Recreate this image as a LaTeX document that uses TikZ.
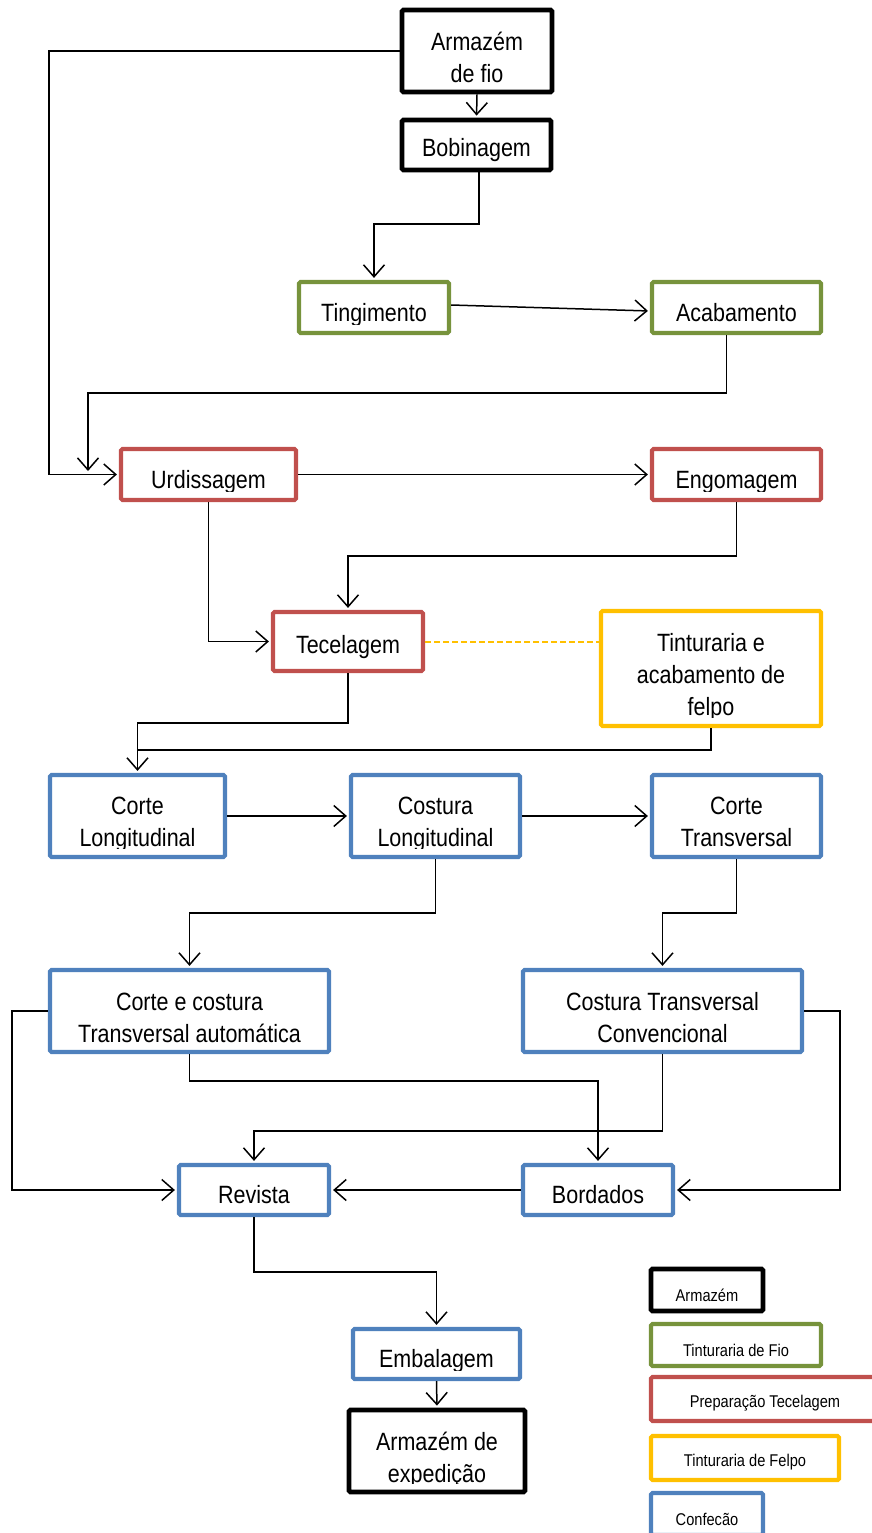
\documentclass[tikz,border=0pt]{standalone}
\usepackage{fontspec}
\setmainfont{Liberation Sans}[FakeStretch=0.86]
\usetikzlibrary{arrows.meta,calc}

\definecolor{cArm}{HTML}{000000}
\definecolor{cFio}{HTML}{77933C}
\definecolor{cPrep}{HTML}{C0504D}
\definecolor{cFelpo}{HTML}{FFC000}
\definecolor{cConf}{HTML}{4F81BD}

% line break that keeps every line the same height
\newcommand{\nl}{\\\strut}

\tikzset{
  procbox/.style={draw=#1, line width=4.2pt, rounded corners=1.5pt, fill=white,
    inner sep=0pt, anchor=center},
  armbox/.style={procbox=cArm, line width=4.8pt},
  fiobox/.style={procbox=cFio},
  prepbox/.style={procbox=cPrep},
  felpobox/.style={procbox=cFelpo},
  confbox/.style={procbox=cConf},
  txt/.style={align=center, inner sep=0pt, font=\fontsize{25}{32}\selectfont,
    execute at begin node=\strut},
  smalltxt/.style={align=center, inner sep=0pt, font=\fontsize{17}{20}\selectfont},
  flow/.style={draw=black, line width=1.5pt,
    -{Straight Barb[length=12pt,width=21pt,line width=1.5pt]}, shorten >=2pt},
  link/.style={draw=black, line width=1.5pt},
  felpolink/.style={draw=cFelpo, line width=2pt, dash pattern=on 6pt off 3pt},
}

% box text, clipped a little above the lower edge of its box
% [#1] vertical offset, #2 box name, #3 text style, #4 text
\def\clipgap{11pt}
\newcommand{\boxtext}[4][-7.5pt]{%
  \begin{scope}
    \clip ([yshift=\clipgap]#2.south west) rectangle (#2.north east);
    \node[#3] (#2-t) at ([yshift=#1]#2.center) {#4};
  \end{scope}}

\begin{document}
\begin{tikzpicture}[x=1pt, y=-1pt]
\useasboundingbox (0,0) rectangle (872,1533);

% ---- process boxes ----
\node[armbox, minimum width=150pt, minimum height=82pt] (arm) at (477,51) {};
\node[armbox, minimum width=149pt, minimum height=50pt] (bob) at (476.5,145) {};
\node[fiobox, minimum width=150pt, minimum height=51pt] (ting) at (374,307.5) {};
\node[fiobox, minimum width=169pt, minimum height=51pt] (acab) at (736.5,307.5) {};
\node[prepbox, minimum width=175pt, minimum height=51pt] (urd) at (208.5,474.5) {};
\node[prepbox, minimum width=169pt, minimum height=51pt] (eng) at (736.5,474.5) {};
\node[prepbox, minimum width=150pt, minimum height=59pt] (tec) at (348,641.5) {};
\node[felpobox, minimum width=220pt, minimum height=115pt] (tint) at (711,668.5) {};
\node[confbox, minimum width=175pt, minimum height=82pt] (cl) at (137.5,816) {};
\node[confbox, minimum width=169pt, minimum height=82pt] (csl) at (435.5,816) {};
\node[confbox, minimum width=169pt, minimum height=82pt] (ct) at (736.5,816) {};
\node[confbox, minimum width=279pt, minimum height=82pt] (cca) at (189.5,1011) {};
\node[confbox, minimum width=279pt, minimum height=82pt] (ctc) at (662.5,1011) {};
\node[confbox, minimum width=150pt, minimum height=50pt] (rev) at (254,1190) {};
\node[confbox, minimum width=150pt, minimum height=50pt] (bor) at (598,1190) {};
\node[confbox, minimum width=167pt, minimum height=50pt] (emb) at (436.5,1354) {};
\node[armbox, minimum width=176pt, minimum height=82pt] (axp) at (437,1451) {};

\boxtext[-11.5pt]{arm}{txt}{Armazém\nl de fio}
\boxtext[-5.5pt]{bob}{txt}{Bobinagem}
\boxtext{ting}{txt}{Tingimento}
\boxtext{acab}{txt}{Acabamento}
\boxtext{urd}{txt}{Urdissagem}
\boxtext{eng}{txt}{Engomagem}
\boxtext[-5.5pt]{tec}{txt}{Tecelagem}
\boxtext[-10.5pt]{tint}{txt}{Tinturaria e\nl acabamento de\nl felpo}
\boxtext[-10.5pt]{cl}{txt}{Corte\nl Longitudinal}
\boxtext[-10.5pt]{csl}{txt}{Costura\nl Longitudinal}
\boxtext[-10.5pt]{ct}{txt}{Corte\nl Transversal}
\boxtext[-11.5pt]{cca}{txt}{Corte e costura\nl Transversal automática}
\boxtext[-11.5pt]{ctc}{txt}{Costura Transversal\nl Convencional}
\boxtext{rev}{txt}{Revista}
\boxtext{bor}{txt}{Bordados}
\boxtext{emb}{txt}{Embalagem}
\boxtext[-11pt]{axp}{txt}{Armazém de\nl expedição}

% ---- legend ----
\node[armbox, minimum width=112pt, minimum height=42pt] (la) at (707,1290) {};
\node[fiobox, minimum width=170pt, minimum height=42pt] (lf) at (736,1345) {};
\node[prepbox, minimum width=228pt, minimum height=44pt] (lp) at (765,1399) {};
\node[felpobox, minimum width=188pt, minimum height=44pt] (lfe) at (745,1458) {};
\node[confbox, minimum width=112pt, minimum height=42pt] (lc) at (707,1514) {};

\def\clipgap{8pt}
\boxtext[-5.5pt]{la}{smalltxt}{Armazém}
\boxtext[-5.5pt]{lf}{smalltxt}{Tinturaria de Fio}
\boxtext[-4pt]{lp}{smalltxt}{Preparação Tecelagem}
\boxtext[-4pt]{lfe}{smalltxt}{Tinturaria de Felpo}
\boxtext[-5.5pt]{lc}{smalltxt}{Confecão}

% ---- route levels ----
\coordinate (x1) at (49,0);
\coordinate (y3) at (0,224);
\coordinate (k5) at (88,393);
\coordinate (e5) at (88,471);
\coordinate (y7) at (0,556);
\coordinate (y10) at (0,723);
\coordinate (y11) at (0,750);
\coordinate (y14) at (0,913);
\coordinate (x16) at (12,0);
\coordinate (y17) at (0,1081);
\coordinate (y18) at (0,1131);
\coordinate (x19) at (840,0);
\coordinate (y21) at (0,1272);

% ---- connectors ----
\draw[flow] (arm.west) -| (urd.west -| x1) -- (urd.west);
\draw[flow] (arm.south) -- (bob.north);
\draw[flow] ([xshift=2.5pt]bob.south) -- ([xshift=2.5pt]bob.south |- y3) -| (ting.north);
\draw[flow] ([yshift=2.5pt]ting.east) -- ([yshift=-3.5pt]acab.west);
\draw[flow, shorten >=0pt] ([xshift=-10pt]acab.south) |- (k5) -- (e5);
\draw[flow] (urd.east) -- (eng.west);
\draw[flow] (eng.south) -- (eng.south |- y7) -| (tec.north);
\draw[flow] (urd.south) |- (tec.west);
\draw[felpolink] (tec.east) -- (tint.west |- tec.east);
\draw[flow] (tec.south) -- (tec.south |- y10) -| (cl.north);
\draw[link] (tint.south) -- (tint.south |- y11) -- (cl.north |- y11);
\draw[flow] (cl.east) -- (csl.west);
\draw[flow] (csl.east) -- (ct.west);
\draw[flow] (csl.south) -- (csl.south |- y14) -| (cca.north);
\draw[flow] (ct.south) -- (ct.south |- y14) -| (ctc.north);
\draw[flow] (cca.west) -| (rev.west -| x16) -- (rev.west);
\draw[flow] (cca.south) -- (cca.south |- y17) -| (bor.north);
\draw[flow] (ctc.south) -- (ctc.south |- y18) -| (rev.north);
\draw[flow] (ctc.east) -| (bor.east -| x19) -- (bor.east);
\draw[flow] (bor.west) -- (rev.east);
\draw[flow] (rev.south) -- (rev.south |- y21) -| (emb.north);
\draw[flow] (emb.south) -- (axp.north);
\end{tikzpicture}
\end{document}
